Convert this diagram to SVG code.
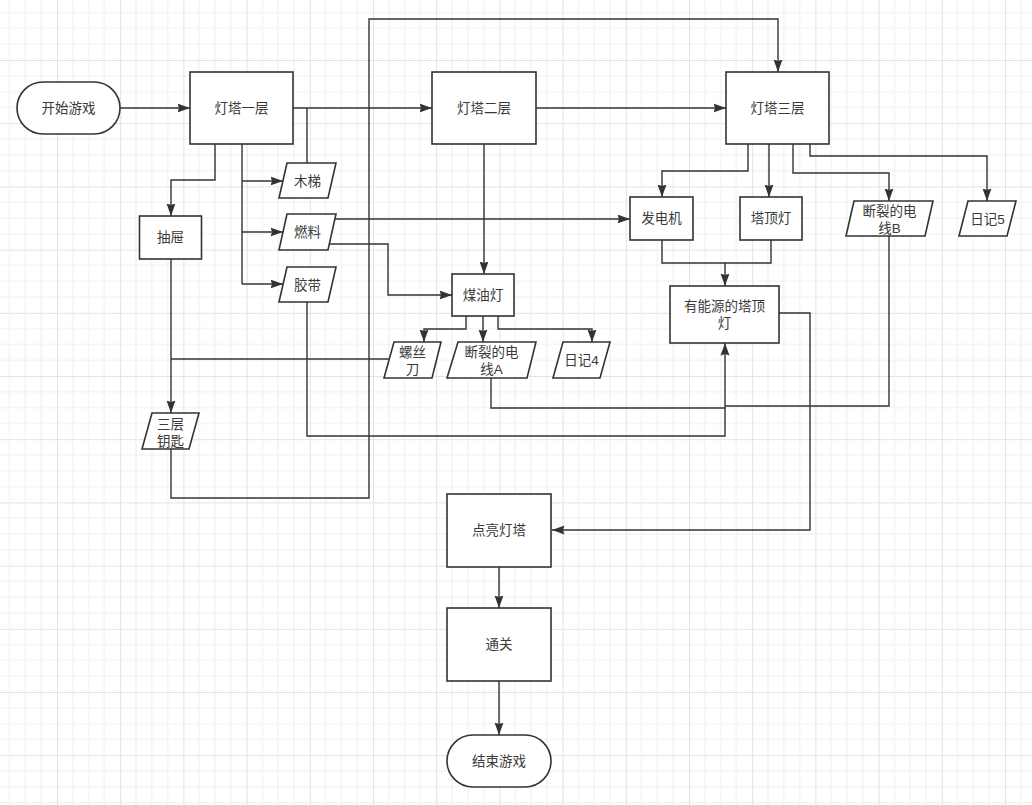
<svg xmlns="http://www.w3.org/2000/svg" width="1032" height="805" viewBox="0 0 1032 805">
<defs>
<pattern id="grid" x="57" y="60" width="63.2" height="63.2" patternUnits="userSpaceOnUse">
<rect width="63.2" height="63.2" fill="#ffffff"/>
<path d="M15.8,0 V63.2 M31.6,0 V63.2 M47.4,0 V63.2 M0,15.8 H63.2 M0,31.6 H63.2 M0,47.4 H63.2" stroke="#efefef" stroke-width="1" fill="none"/>
<path d="M0.5,0 V63.2 M0,0.5 H63.2" stroke="#e3e3e3" stroke-width="1" fill="none"/>
</pattern>
<marker id="arr" markerUnits="userSpaceOnUse" markerWidth="13" markerHeight="10" viewBox="0 0 13 10" refX="12.5" refY="5" orient="auto">
<path d="M0,0.5 L12.5,5 L0,9.5 L1.5,5 z" fill="#333333"/>
</marker>
<style>
.n{fill:#ffffff;stroke:#333333;stroke-width:1.6}
.t{font-family:"Liberation Sans","Noto Sans CJK SC",sans-serif;font-size:13.5px;fill:#3a3a3a;text-anchor:middle;dominant-baseline:central}
.c{fill:none;stroke:#333333;stroke-width:1.4}
.a{marker-end:url(#arr)}
</style>
</defs>
<rect width="1032" height="805" fill="url(#grid)"/>
<g id="connectors">
<path class="c a" d="M120,108 H190"/>
<path class="c a" d="M293,108 H432"/>
<path class="c" d="M307,163 V108"/>
<path class="c a" d="M215,144 V180 H171 V216"/>
<path class="c" d="M242,144 V284"/>
<path class="c a" d="M242,181 H283"/>
<path class="c a" d="M242,232 H283"/>
<path class="c a" d="M242,284 H283"/>
<path class="c a" d="M335,219 H630"/>
<path class="c a" d="M327,244 H388 V295 H452"/>
<path class="c a" d="M484,144 V274"/>
<path class="c a" d="M536,108 H726"/>
<path class="c a" d="M171,449 V498 H369 V19 H778 V72"/>
<path class="c a" d="M748,144 V171 H662 V197"/>
<path class="c a" d="M769,144 V197"/>
<path class="c a" d="M793,144 V173 H889 V201"/>
<path class="c a" d="M810,144 V156 H987 V201"/>
<path class="c a" d="M662,240 V263 H725 V286"/>
<path class="c" d="M771,240 V263 H725"/>
<path class="c a" d="M466,316 V329 H424 V342"/>
<path class="c a" d="M483,316 V342"/>
<path class="c a" d="M498,316 V329 H592 V342"/>
<path class="c" d="M389,359 H171"/>
<path class="c a" d="M171,259 V413"/>
<path class="c a" d="M307,302 V436 H725 V343"/>
<path class="c" d="M491,378 V408 H725"/>
<path class="c" d="M889,236 V406 H725"/>
<path class="c a" d="M779,313 H810 V530 H552"/>
<path class="c a" d="M499,567 V608"/>
<path class="c a" d="M499,681 V735"/>
</g>
<g id="start"><rect class="n" x="17" y="82" width="103" height="52" rx="26"/><text class="t" x="68.5" y="108">开始游戏</text></g>
<g id="floor1"><rect class="n" x="190" y="72" width="103" height="72"/><text class="t" x="241.5" y="108">灯塔一层</text></g>
<g id="floor2"><rect class="n" x="432" y="72" width="104" height="72"/><text class="t" x="484" y="108">灯塔二层</text></g>
<g id="floor3"><rect class="n" x="726" y="72" width="103" height="72"/><text class="t" x="777.5" y="108">灯塔三层</text></g>
<g id="drawer"><rect class="n" x="139.5" y="216" width="62" height="43"/><text class="t" x="170.5" y="237.5">抽屉</text></g>
<g id="ladder"><polygon class="n" points="287,163 336,163 328,198 279,198"/><text class="t" x="307.5" y="181">木梯</text></g>
<g id="fuel"><polygon class="n" points="287,214 336,214 328,250 279,250"/><text class="t" x="307.5" y="232">燃料</text></g>
<g id="tape"><polygon class="n" points="287,267 336,267 328,302 279,302"/><text class="t" x="307.5" y="285">胶带</text></g>
<g id="lamp"><rect class="n" x="452" y="274" width="62" height="42"/><text class="t" x="483" y="295">煤油灯</text></g>
<g id="generator"><rect class="n" x="630" y="197" width="63" height="43"/><text class="t" x="661.5" y="218.5">发电机</text></g>
<g id="toplight"><rect class="n" x="740" y="197" width="62" height="43"/><text class="t" x="771" y="218.5">塔顶灯</text></g>
<g id="wireB"><polygon class="n" points="854,201 933,201 925,236 846,236"/><text class="t" x="889.5" y="211">断裂的电</text><text class="t" x="889.5" y="228">线B</text></g>
<g id="diary5"><polygon class="n" points="968,201 1016,201 1007,236 959,236"/><text class="t" x="987.5" y="219">日记5</text></g>
<g id="poweredlight"><rect class="n" x="670" y="286" width="109" height="57"/><text class="t" x="724.5" y="306">有能源的塔顶</text><text class="t" x="724.5" y="323">灯</text></g>
<g id="screwdriver"><polygon class="n" points="394,342 441,342 432,378 384,378"/><text class="t" x="412.5" y="352.5">螺丝</text><text class="t" x="412.5" y="369">刀</text></g>
<g id="wireA"><polygon class="n" points="458,342 536,342 527,378 447,378"/><text class="t" x="491.5" y="352">断裂的电</text><text class="t" x="491.5" y="369">线A</text></g>
<g id="diary4"><polygon class="n" points="563,342 610,342 600,378 553,378"/><text class="t" x="581.5" y="360">日记4</text></g>
<g id="key"><polygon class="n" points="152,413 199,413 189,449 142,449"/><text class="t" x="170.5" y="424">三层</text><text class="t" x="170.5" y="441">钥匙</text></g>
<g id="light"><rect class="n" x="447" y="494" width="104" height="73"/><text class="t" x="499" y="530.5">点亮灯塔</text></g>
<g id="clear"><rect class="n" x="447" y="608" width="104" height="73"/><text class="t" x="499" y="644.5">通关</text></g>
<g id="end"><rect class="n" x="447" y="735" width="104" height="52" rx="26"/><text class="t" x="499" y="761">结束游戏</text></g>
</svg>
